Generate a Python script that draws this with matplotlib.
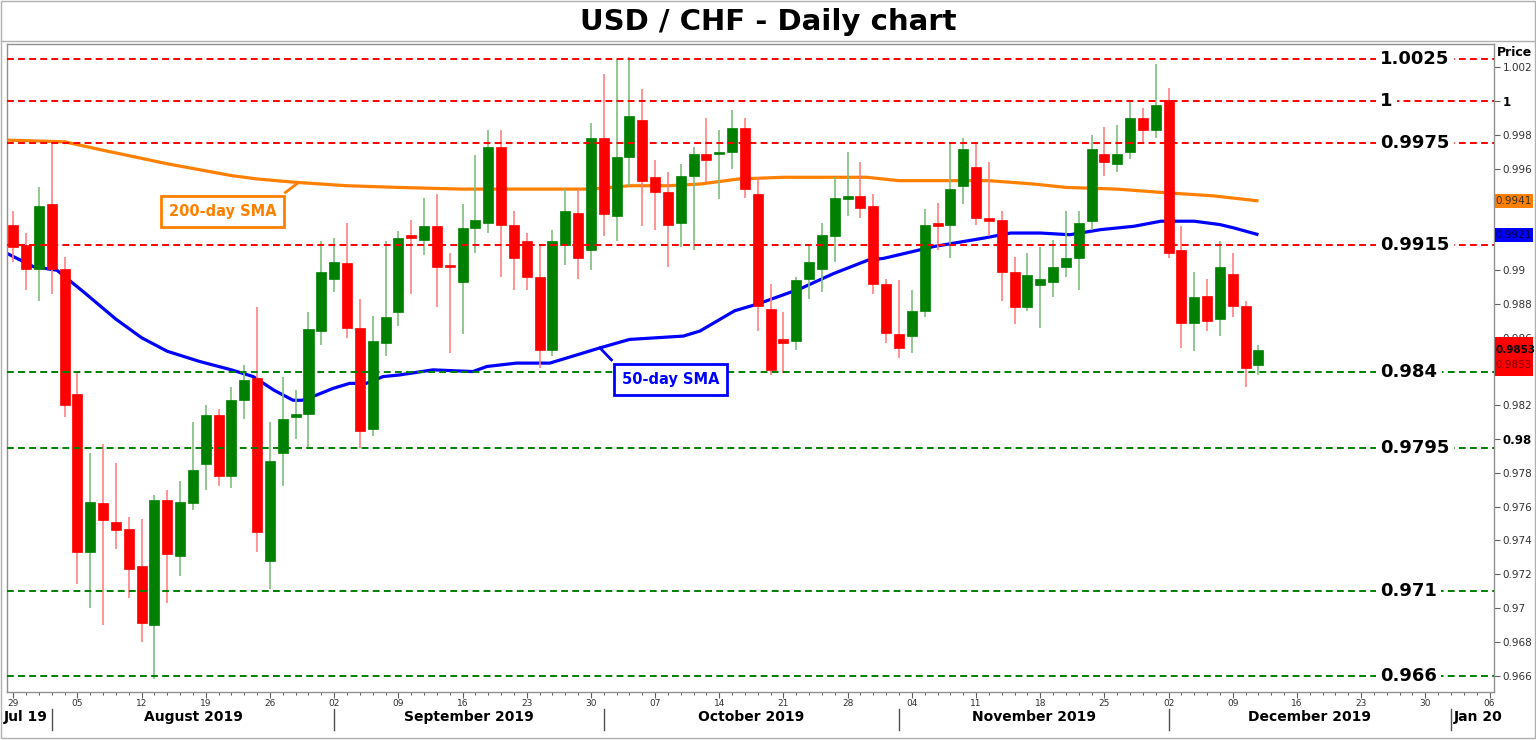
import matplotlib
matplotlib.use('Agg')
import matplotlib.pyplot as plt
import matplotlib.transforms as mtransforms
from matplotlib.patches import Rectangle
from matplotlib.lines import Line2D

# daily OHLC, weekdays 29 Jul 2019 .. 11 Dec 2019 (index 0..97)
opens = [0.9927, 0.9915, 0.9901, 0.9939, 0.9901, 0.9827, 0.9733, 0.9762, 0.9751, 0.9747,
         0.9725, 0.9690, 0.9764, 0.9731, 0.9762, 0.9785, 0.9814, 0.9778, 0.9823, 0.9836,
         0.9728, 0.9792, 0.9813, 0.9815, 0.9864, 0.9895, 0.9904, 0.9866, 0.9806, 0.9857,
         0.9875, 0.9921, 0.9918, 0.9926, 0.9903, 0.9893, 0.9925, 0.9928, 0.9973, 0.9927,
         0.9917, 0.9896, 0.9853, 0.9915, 0.9934, 0.9912, 0.9978, 0.9932, 0.9967, 0.9989,
         0.9955, 0.9946, 0.9928, 0.9956, 0.9969, 0.9969, 0.9970, 0.9984, 0.9945, 0.9877,
         0.9859, 0.9858, 0.9895, 0.9901, 0.9920, 0.9942, 0.9944, 0.9938, 0.9892, 0.9862,
         0.9861, 0.9876, 0.9928, 0.9927, 0.9950, 0.9961, 0.9931, 0.9930, 0.9899, 0.9878,
         0.9891, 0.9893, 0.9902, 0.9907, 0.9929, 0.9969, 0.9963, 0.9970, 0.9990, 0.9983,
         1.0001, 0.9912, 0.9869, 0.9885, 0.9871, 0.9898, 0.9879, 0.9844]
highs = [0.9935, 0.9922, 0.9949, 0.9976, 0.9908, 0.9839, 0.9792, 0.9797, 0.9786, 0.9754,
         0.9753, 0.9767, 0.9770, 0.9775, 0.9810, 0.9820, 0.9818, 0.9831, 0.9844, 0.9878,
         0.9810, 0.9837, 0.9829, 0.9875, 0.9917, 0.9919, 0.9928, 0.9883, 0.9873, 0.9917,
         0.9923, 0.9930, 0.9943, 0.9945, 0.9910, 0.9939, 0.9968, 0.9983, 0.9983, 0.9935,
         0.9922, 0.9915, 0.9924, 0.9948, 0.9948, 0.9987, 1.0016, 1.0025, 1.0026, 1.0007,
         0.9965, 0.9958, 0.9963, 0.9973, 0.9990, 0.9983, 0.9995, 0.9990, 0.9955, 0.9892,
         0.9875, 0.9896, 0.9915, 0.9928, 0.9955, 0.9970, 0.9964, 0.9945, 0.9895, 0.9894,
         0.9888, 0.9936, 0.9940, 0.9975, 0.9978, 0.9976, 0.9964, 0.9935, 0.9908, 0.9910,
         0.9914, 0.9918, 0.9935, 0.9935, 0.9980, 0.9985, 0.9986, 1.0000, 0.9996, 1.0022,
         1.0008, 0.9926, 0.9899, 0.9895, 0.9917, 0.9910, 0.9882, 0.9856]
lows = [0.9905, 0.9888, 0.9882, 0.9886, 0.9813, 0.9714, 0.9700, 0.9690, 0.9735, 0.9706,
        0.9680, 0.9658, 0.9703, 0.9719, 0.9758, 0.9770, 0.9772, 0.9771, 0.9812, 0.9733,
        0.9711, 0.9772, 0.9800, 0.9795, 0.9856, 0.9887, 0.9860, 0.9795, 0.9802, 0.9849,
        0.9867, 0.9886, 0.9909, 0.9878, 0.9851, 0.9862, 0.9910, 0.9922, 0.9896, 0.9888,
        0.9888, 0.9842, 0.9849, 0.9903, 0.9895, 0.9900, 0.9920, 0.9917, 0.9950, 0.9926,
        0.9924, 0.9902, 0.9914, 0.9912, 0.9952, 0.9942, 0.9960, 0.9943, 0.9864, 0.9838,
        0.9839, 0.9853, 0.9883, 0.9887, 0.9905, 0.9932, 0.9931, 0.9886, 0.9857, 0.9848,
        0.9851, 0.9872, 0.9912, 0.9907, 0.9939, 0.9927, 0.9920, 0.9882, 0.9868, 0.9876,
        0.9866, 0.9884, 0.9896, 0.9888, 0.9924, 0.9956, 0.9958, 0.9966, 0.9976, 0.9978,
        0.9907, 0.9854, 0.9852, 0.9864, 0.9861, 0.9872, 0.9831, 0.9838]
closes = [0.9914, 0.9901, 0.9938, 0.9901, 0.9820, 0.9733, 0.9763, 0.9752, 0.9746, 0.9723,
          0.9691, 0.9764, 0.9732, 0.9763, 0.9782, 0.9814, 0.9778, 0.9823, 0.9835, 0.9745,
          0.9787, 0.9812, 0.9815, 0.9865, 0.9899, 0.9905, 0.9866, 0.9805, 0.9858, 0.9872,
          0.9919, 0.9919, 0.9926, 0.9902, 0.9902, 0.9925, 0.9930, 0.9973, 0.9927, 0.9907,
          0.9896, 0.9853, 0.9917, 0.9935, 0.9907, 0.9978, 0.9933, 0.9967, 0.9991, 0.9953,
          0.9946, 0.9927, 0.9956, 0.9969, 0.9965, 0.9970, 0.9984, 0.9948, 0.9879, 0.9841,
          0.9857, 0.9894, 0.9905, 0.9921, 0.9943, 0.9944, 0.9937, 0.9892, 0.9863, 0.9854,
          0.9876, 0.9927, 0.9926, 0.9948, 0.9972, 0.9931, 0.9929, 0.9899, 0.9878, 0.9897,
          0.9895, 0.9902, 0.9907, 0.9928, 0.9972, 0.9964, 0.9969, 0.9990, 0.9983, 0.9998,
          0.9910, 0.9869, 0.9884, 0.9870, 0.9902, 0.9879, 0.9842, 0.9853]

# moving averages (index, value)
sma200_x = [-0.5, 4, 7, 12, 17, 19, 22, 26, 30, 35, 40, 45, 48, 51, 53.5, 56.5, 60,
            66.5, 69, 76, 79.5, 82, 86, 89.5, 93.5, 97]
sma200_y = [0.9977, 0.9976, 0.9971, 0.9963, 0.9956, 0.9954, 0.9952, 0.9950, 0.9949,
            0.9948, 0.9948, 0.9948, 0.9950, 0.9950, 0.9951, 0.9954, 0.9955, 0.9955,
            0.9953, 0.9953, 0.9951, 0.9949, 0.9948, 0.9946, 0.9944, 0.9941]
sma50_x = [-0.5, 1.6, 3.4, 5.5, 8, 10, 12, 14.5, 17, 18.7, 20.3, 21.8, 22.5, 23.6, 24.9,
           26.2, 27.5, 28.8, 30.1, 32.7, 35.8, 36.9, 39.2, 41.8, 44.4, 45.7, 48, 52.2,
           53.5, 56.2, 58, 61.3, 63.9, 66.6, 67.8, 70.6, 71.7, 75.6, 77.7, 80, 82.3,
           84.7, 87.3, 89.4, 92, 94, 95.1, 97]
sma50_y = [0.9910, 0.9902, 0.9900, 0.9887, 0.9871, 0.9860, 0.9852, 0.9846, 0.9841,
           0.9837, 0.9829, 0.9823, 0.9823, 0.9826, 0.9830, 0.9833, 0.9833, 0.9837,
           0.9838, 0.9841, 0.9840, 0.9843, 0.9845, 0.9845, 0.9851, 0.9854, 0.9859,
           0.9861, 0.9864, 0.9876, 0.9880, 0.9889, 0.9898, 0.9906, 0.9907, 0.9912,
           0.9914, 0.9919, 0.9922, 0.9922, 0.9921, 0.9924, 0.9926, 0.9929, 0.9929,
           0.9927, 0.9925, 0.9921]

resistance = [1.0025, 1.0, 0.9975, 0.9915]
resistance_labels = ['1.0025', '1', '0.9975', '0.9915']
support = [0.984, 0.9795, 0.971, 0.966]
support_labels = ['0.984', '0.9795', '0.971', '0.966']

# 0.992 / 0.994 labels sit under the SMA value tags, so only their ticks show
price_ticks = [0.966, 0.968, 0.970, 0.972, 0.974, 0.976, 0.978, 0.980, 0.982, 0.984,
               0.986, 0.988, 0.990, 0.992, 0.994, 0.996, 0.998, 1.000, 1.002]
price_labels = ['0.966', '0.968', '0.97', '0.972', '0.974', '0.976', '0.978', '0.98',
                '0.982', '0.984', '0.986', '0.988', '0.99', '', '', '0.996',
                '0.998', '1', '1.002']

week_pos = [0, 5, 10, 15, 20, 25, 30, 35, 40, 45, 50, 55, 60, 65, 70, 75, 80, 85,
            90, 95, 100, 105, 110, 115]
week_labels = ['29', '05', '12', '19', '26', '02', '09', '16', '23', '30', '07', '14',
               '21', '28', '04', '11', '18', '25', '02', '09', '16', '23', '30', '06']
month_edges = [3, 25, 46, 69, 90, 112]
month_names = ['Jul 19', 'August 2019', 'September 2019', 'October 2019',
               'November 2019', 'December 2019', 'Jan 20']

RED = '#ff0000'
GREEN = '#008000'
ORANGE = '#ff8000'
BLUE = '#0000ff'

fig = plt.figure(figsize=(15.36, 7.4), dpi=100)
ax = fig.add_axes([6.7/1536, 1-692/740, (1494-6.7)/1536, 648/740])
ax.set_xlim(-0.51, 115.35)
ax.set_ylim(0.96503, 1.00339)

# candles
idx = list(range(len(opens)))
up = [c >= o for o, c in zip(opens, closes)]
body_col = [GREEN if u else RED for u in up]
wick_col = ['#7fbf7f' if u else '#ff8080' for u in up]
ax.vlines(idx, lows, highs, colors=wick_col, lw=1.2, zorder=3)
bottoms = [min(o, c) for o, c in zip(opens, closes)]
heights = [max(abs(c - o), 0.00012) for o, c in zip(opens, closes)]
ax.bar(idx, heights, bottom=bottoms, width=0.78, color=body_col,
       edgecolor=body_col, lw=0.5, zorder=4)

# moving averages
ax.plot(sma200_x, sma200_y, color=ORANGE, lw=2.3, zorder=2.5, solid_capstyle='butt')
ax.plot(sma50_x, sma50_y, color=BLUE, lw=2.3, zorder=2.5, solid_capstyle='butt')

# support / resistance
for lvl, lab in zip(resistance, resistance_labels):
    ax.axhline(lvl, color=RED, lw=1.4, dashes=(3.5, 2.2), zorder=4.5)
    ax.text(106.5, lvl, lab, ha='left', va='center', fontsize=13, fontweight='bold',
            bbox=dict(fc='white', ec='none', pad=3), zorder=6)
for lvl, lab in zip(support, support_labels):
    ax.axhline(lvl, color=GREEN, lw=1.4, dashes=(3.5, 2.2), zorder=4.5)
    ax.text(106.5, lvl, lab, ha='left', va='center', fontsize=13, fontweight='bold',
            bbox=dict(fc='white', ec='none', pad=3), zorder=6)

# SMA call-outs
ax.text(16.3, 0.99345, '200-day SMA', ha='center', va='center', color=ORANGE,
        fontsize=10.5, fontweight='bold', zorder=7,
        bbox=dict(boxstyle='square,pad=0.55', fc='white', ec=ORANGE, lw=2))
ax.plot([21.2, 22.15], [0.9946, 0.99515], color=ORANGE, lw=2, zorder=7)
ax.text(51.2, 0.98354, '50-day SMA', ha='center', va='center', color=BLUE,
        fontsize=10.5, fontweight='bold', zorder=7,
        bbox=dict(boxstyle='square,pad=0.55', fc='white', ec=BLUE, lw=2))
ax.plot([45.7, 46.6], [0.9854, 0.98469], color=BLUE, lw=2, zorder=7)

# right price axis
ax.yaxis.tick_right()
ax.set_yticks(price_ticks)
ax.set_yticklabels(price_labels)
ax.tick_params(axis='y', direction='out', length=4, width=0.8, color='#606060',
               labelsize=7.5, labelcolor='#303030', pad=2)
for t in ax.get_yticklabels():
    if t.get_text() in ('1', '0.98'):
        t.set_fontweight('bold')
        t.set_fontsize(8.5)
        t.set_color('black')

# x axis
ax.set_xticks(week_pos)
ax.set_xticklabels(week_labels)
ax.set_xticks(list(range(116)), minor=True)
ax.tick_params(axis='x', which='major', direction='out', length=4, width=0.8,
               color='#606060', labelsize=6.5, labelcolor='#303030', pad=1)
ax.tick_params(axis='x', which='minor', direction='out', length=2.5, width=0.7,
               color='#606060')
for s in ax.spines.values():
    s.set_color('#909090')
    s.set_linewidth(1)

trans = mtransforms.blended_transform_factory(ax.transData, ax.transAxes)
for e in month_edges:
    ax.plot([e, e], [-0.026, -0.058], transform=trans, color='#505050', lw=1,
            clip_on=False)
ax.text(month_edges[0] - 0.3, -0.0386, month_names[0], transform=trans, ha='right',
        va='center', fontsize=10, fontweight='bold')
for i in range(1, 6):
    mid = (month_edges[i - 1] + month_edges[i]) / 2
    ax.text(mid, -0.0386, month_names[i], transform=trans, ha='center', va='center',
            fontsize=10, fontweight='bold')
ax.text(month_edges[5] + 0.2, -0.0386, month_names[6], transform=trans, ha='left',
        va='center', fontsize=10, fontweight='bold')

# value tags on the price axis
ytrans = mtransforms.blended_transform_factory(ax.transAxes, ax.transData)
ax.add_patch(Rectangle((1.0005, sma200_y[-1] - 0.00042), 0.026, 0.00084, transform=ytrans,
                       fc=ORANGE, ec='none', clip_on=False, zorder=8))
ax.text(1.0012, sma200_y[-1], '%.4f' % sma200_y[-1], transform=ytrans, ha='left',
        va='center', fontsize=7.5, color='#303030', zorder=9)
ax.add_patch(Rectangle((1.0005, sma50_y[-1] - 0.00042), 0.026, 0.00084, transform=ytrans,
                       fc=BLUE, ec='none', clip_on=False, zorder=8))
ax.text(1.0012, sma50_y[-1], '%.4f' % sma50_y[-1], transform=ytrans, ha='left',
        va='center', fontsize=7.5, color='#000040', zorder=9)
ax.add_patch(Rectangle((1.0005, closes[-1] - 0.00155), 0.026, 0.0023, transform=ytrans,
                       fc=RED, ec='none', clip_on=False, zorder=8))
ax.text(1.0012, closes[-1], '%.4f' % closes[-1], transform=ytrans, ha='left',
        va='center', fontsize=7.5, fontweight='bold', color='black', zorder=9)
ax.text(1.0012, closes[-1] - 0.0009, '%.4f' % closes[-1], transform=ytrans, ha='left',
        va='center', fontsize=7.5, color='#800000', zorder=9)

fig.text(1515/1536, 1 - 52/740, 'Price', ha='center', va='center', fontsize=9,
         fontweight='bold')
fig.text(0.5, 1 - 22/740, 'USD / CHF - Daily chart', ha='center', va='center',
         fontsize=21, fontweight='bold')

# outer frame and title separator
fig.add_artist(Rectangle((1/1536, 2/740), 1534/1536, 737/740, transform=fig.transFigure,
                         fill=False, ec='#b0b0b0', lw=1))
fig.add_artist(Line2D([1/1536, 1535/1536], [1 - 41/740, 1 - 41/740],
                      transform=fig.transFigure, color='#b0b0b0', lw=1))

fig.savefig('out.png', dpi=100)
